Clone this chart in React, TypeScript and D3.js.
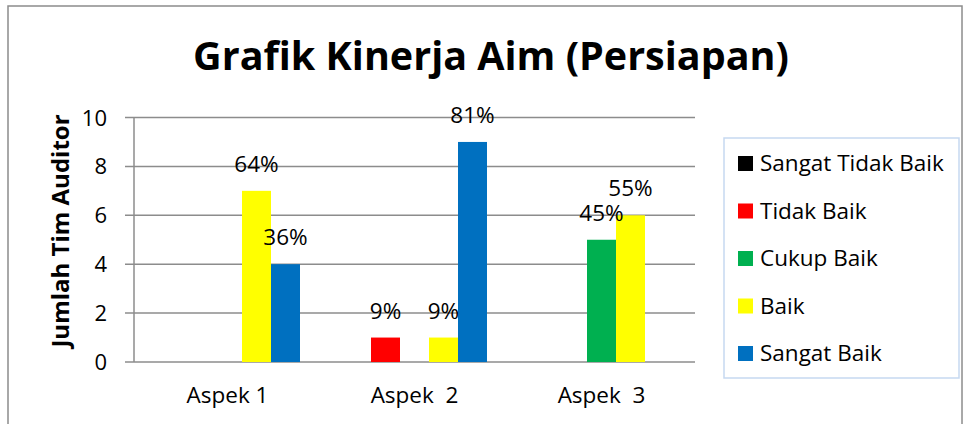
import React from "react";
import * as d3 from "d3";

const categories = ["Aspek 1", "Aspek  2", "Aspek  3"];
const seriesNames = ["Sangat Tidak Baik", "Tidak Baik", "Cukup Baik", "Baik", "Sangat Baik"];
const seriesColors = ["#000000", "#ff0000", "#00b050", "#ffff00", "#0070c0"];
// values per series, one per category
const sangatTidakBaik = [0, 0, 0];
const tidakBaik = [0, 1, 0];
const cukupBaik = [0, 0, 5];
const baik = [7, 1, 6];
const sangatBaik = [4, 9, 0];
// percentage labels per series (null = no label)
const labelsTidakBaik = [null, "9%", null];
const labelsCukupBaik = [null, null, "45%"];
const labelsBaik = ["64%", "9%", "55%"];
const labelsSangatBaik = ["36%", "81%", null];
const yTicks = [0, 2, 4, 6, 8, 10];

const seriesValues = [sangatTidakBaik, tidakBaik, cukupBaik, baik, sangatBaik];
const seriesLabels = [[null, null, null], labelsTidakBaik, labelsCukupBaik, labelsBaik, labelsSangatBaik];

const W = 963;
const H = 424;
const plot = { left: 134, right: 695, top: 117.5, bottom: 362 };
const font = "'Open Sans', 'Noto Sans', sans-serif";

export default function App() {
  const x0 = d3.scaleBand<string>().domain(categories).range([plot.left, plot.right]).padding(0);
  const bw = x0.bandwidth();
  const x1 = d3
    .scaleBand<string>()
    .domain(seriesNames)
    .range([bw * 0.1123, bw * (1 - 0.1123)])
    .padding(0);
  const y = d3.scaleLinear().domain([0, 10]).range([plot.bottom, plot.top]);

  const grid = "#8c8c8c";

  return (
    <svg
      width={W}
      height={H}
      style={{ position: "absolute", left: 0, top: 0, background: "#fff", fontVariantLigatures: "none" }}
      fontFamily={font}
    >
      <rect x={8} y={6} width={954} height={430} fill="#fff" stroke="#8c8c8c" strokeWidth={1.5} />

      <text x={491} y={70} textAnchor="middle" fontSize={39.5} fontWeight="bold" fill="#000">
        Grafik Kinerja Aim (Persiapan)
      </text>

      {yTicks.map((t) => (
        <g key={t}>
          <line x1={plot.left - 9} x2={plot.right} y1={y(t)} y2={y(t)} stroke={grid} strokeWidth={1.5} />
          <text x={107} y={y(t) + 8} textAnchor="end" fontSize={22} fill="#000">
            {t}
          </text>
        </g>
      ))}
      <line x1={plot.left} x2={plot.left} y1={plot.top} y2={plot.bottom} stroke={grid} strokeWidth={1.5} />

      <text
        transform={`translate(69,231) rotate(-90)`}
        textAnchor="middle"
        fontSize={24}
        fontWeight="bold"
        fill="#000"
      >
        Jumlah Tim Auditor
      </text>

      {categories.map((c, ci) => (
        <g key={c} transform={`translate(${x0(c)},0)`}>
          {seriesNames.map((s, si) => {
            const v = seriesValues[si][ci];
            if (!v) return null;
            return (
              <rect
                key={s}
                x={x1(s)}
                y={y(v)}
                width={x1.bandwidth()}
                height={y(0) - y(v)}
                fill={seriesColors[si]}
              />
            );
          })}
          {seriesNames.map((s, si) => {
            const lab = seriesLabels[si][ci];
            if (!lab) return null;
            const v = seriesValues[si][ci];
            return (
              <text
                key={s}
                x={(x1(s) as number) + x1.bandwidth() / 2}
                y={y(v) - 19}
                textAnchor="middle"
                fontSize={22.5}
                fill="#000"
              >
                {lab}
              </text>
            );
          })}
          <text
            x={bw / 2}
            y={403}
            textAnchor="middle"
            fontSize={22.5}
            fill="#000"
            style={{ whiteSpace: "pre" }}
          >
            {c}
          </text>
        </g>
      ))}

      <rect x={724} y={138} width={235} height={240} fill="#fff" stroke="#c6d9f1" strokeWidth={1.5} />
      {seriesNames.map((s, i) => (
        <g key={s} transform={`translate(738,${156 + i * 47.5})`}>
          <rect width={15} height={15} fill={seriesColors[i]} />
          <text x={22} y={15} fontSize={22.5} fill="#000">
            {s}
          </text>
        </g>
      ))}
    </svg>
  );
}
